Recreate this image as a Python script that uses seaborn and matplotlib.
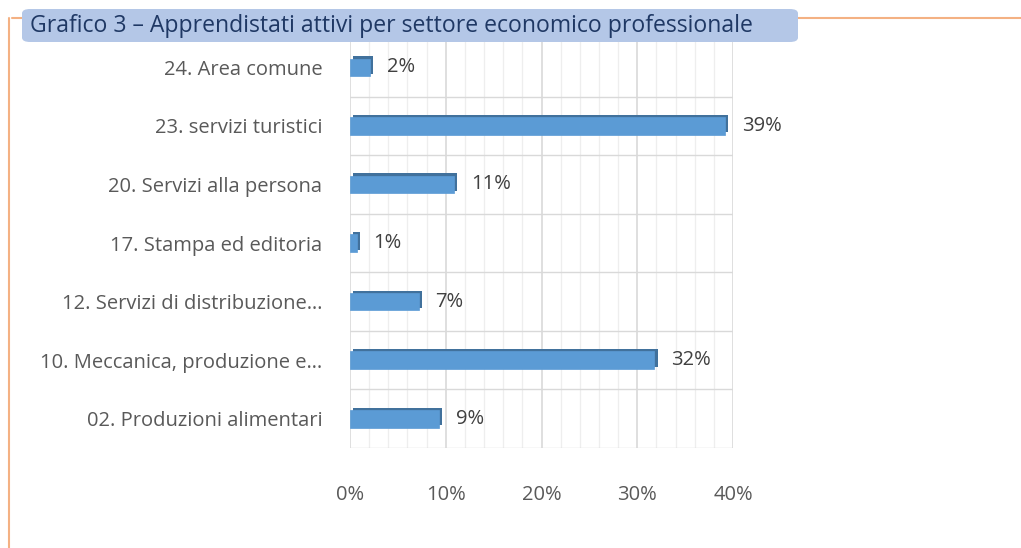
import matplotlib
matplotlib.use("Agg")
import matplotlib.pyplot as plt
import matplotlib.patheffects as pe
from matplotlib.patches import FancyBboxPatch
from matplotlib.lines import Line2D
from matplotlib.ticker import MultipleLocator, PercentFormatter
import seaborn as sns
import pandas as pd

categories = [
    "24. Area comune",
    "23. servizi turistici",
    "20. Servizi alla persona",
    "17. Stampa ed editoria",
    "12. Servizi di distribuzione…",
    "10. Meccanica, produzione e…",
    "02. Produzioni alimentari",
]
values = [0.021, 0.392, 0.109, 0.007, 0.072, 0.318, 0.093]
x_ticks = [0.0, 0.1, 0.2, 0.3, 0.4]
title = "Grafico 3 – Apprendistati attivi per settore economico professionale"

df = pd.DataFrame({"settore": categories, "quota": values})

sns.set_theme(style="white")
plt.rcParams["font.family"] = ["Open Sans", "DejaVu Sans"]

fig = plt.figure(figsize=(10.21, 5.48), dpi=100)
W, H = 1021, 548
ax = fig.add_axes([350 / W, 1 - 448 / H, (733 - 350) / W, (448 - 38) / H])

sns.barplot(data=df, y="settore", x="quota", orient="h", color="#5b9bd5",
            width=0.3, ax=ax, saturation=1, edgecolor="#5b9bd5", linewidth=0.5)
for p in ax.patches:
    p.set_path_effects([pe.SimplePatchShadow(offset=(2.2, 1.6), shadow_rgbFace="#41719c", alpha=1.0),
                        pe.Normal()])
    p.set_zorder(3)

ax.set_xlim(0, 0.4)
ax.set_ylim(len(categories) - 0.5, -0.5)
ax.set_xticks(x_ticks)
ax.xaxis.set_minor_locator(MultipleLocator(0.02))
ax.xaxis.set_major_formatter(PercentFormatter(1.0, decimals=0))
ax.set_yticks(range(len(categories)))
ax.set_yticks([i + 0.5 for i in range(-1, len(categories))], minor=True)
ax.grid(which="major", axis="x", color="#d9d9d9", linewidth=1.2, zorder=0)
ax.grid(which="minor", axis="x", color="#eeeeee", linewidth=0.9, zorder=0)
ax.grid(which="minor", axis="y", color="#d9d9d9", linewidth=1.0, zorder=0)
ax.set_axisbelow(True)
for s in ax.spines.values():
    s.set_visible(False)
ax.tick_params(axis="x", which="both", length=0, pad=27, labelsize=14.5, labelcolor="#595959")
ax.tick_params(axis="y", which="both", length=0, pad=20, labelsize=14.5, labelcolor="#595959")
ax.set_xlabel("")
ax.set_ylabel("")

for i, v in enumerate(values):
    ax.annotate(f"{v:.0%}", xy=(v, i), xytext=(12, 0), textcoords="offset points",
                va="center", ha="left", fontsize=14.5, color="#404040")

# frame lines (orange border corner)
fig.add_artist(Line2D([12 / W, 1.0], [1 - 18 / H, 1 - 18 / H], transform=fig.transFigure,
                      color="#f4b183", linewidth=1.5))
fig.add_artist(Line2D([9 / W, 9 / W], [1 - 18 / H, 0.0], transform=fig.transFigure,
                      color="#f4b183", linewidth=1.5))

# title box
box = FancyBboxPatch((22 / W, 1 - 42 / H), (798 - 22) / W, (42 - 9) / H,
                     boxstyle="round,pad=0,rounding_size=0.008", transform=fig.transFigure,
                     facecolor="#b4c7e7", edgecolor="none", zorder=5)
fig.add_artist(box)
fig.text(30 / W, 1 - 26 / H, title, ha="left", va="center", fontsize=16.6,
         color="#1f3864", zorder=6)

fig.savefig("out.png", dpi=100, facecolor="white")
